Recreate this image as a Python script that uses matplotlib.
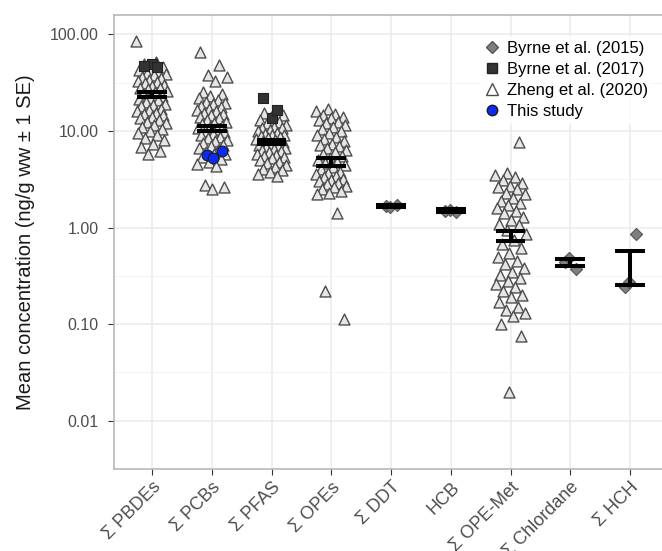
import numpy as np
import matplotlib
matplotlib.use("Agg")
import matplotlib.pyplot as plt
from matplotlib.lines import Line2D

plt.rcParams['font.family'] = ['Liberation Sans', 'DejaVu Sans']

categories = ['Σ PBDEs', 'Σ PCBs', 'Σ PFAS', 'Σ OPEs', 'Σ DDT', 'HCB',
              'Σ OPE-Met', 'Σ Chlordane', 'Σ HCH']

# Zheng et al. (2020) (ng/g ww)
zheng_pbdes = [85, 52, 49, 46, 44, 43, 42, 40, 39, 38, 36, 35, 34, 33, 32, 31,
               30, 29, 28, 27.5, 27, 26, 25, 24, 23, 22, 21.5, 21, 20, 19, 18.5,
               18, 17, 16.5, 16, 15.5, 15, 14.5, 14, 13.5, 13, 12.5, 12, 11.5,
               11, 10.5, 10, 9.5, 9, 8.5, 8, 7.3, 6.8, 6.2, 5.7]
zheng_pcbs = [65, 48, 38, 36, 33, 25, 24, 23, 22, 21, 20, 19.5, 19, 18, 17.5,
              17, 16.5, 16, 15.5, 15, 14.5, 14, 13.5, 13, 12.5, 12, 11.7, 11.3,
              11, 10.7, 10.4, 10, 9.7, 9.4, 9, 8.7, 8.4, 8.1, 7.8, 7.5, 7.2,
              6.9, 6.6, 6.3, 6, 5.8, 5.7, 5.4, 5.1, 4.8, 4.5, 4.3, 2.75, 2.6,
              2.5]
zheng_pfas = [15.5, 14.5, 14, 13, 12.5, 12, 11.5, 11, 10.8, 10.6, 10.2, 9.9,
              9.6, 9.3, 9.1, 9, 8.8, 8.6, 8.4, 8.2, 8, 7.8, 7.6, 7.4, 7.2, 7,
              6.8, 6.6, 6.5, 6.4, 6.2, 6, 5.8, 5.6, 5.5, 5.4, 5.2, 5, 4.8, 4.6,
              4.4, 4.2, 4, 3.9, 3.8, 3.6, 3.4]
zheng_opes = [17, 16, 15, 14.5, 14, 13.5, 13, 12.5, 12, 11.5, 11, 10.5, 10,
              9.5, 9, 8.6, 8.2, 7.8, 7.4, 7.2, 7, 6.7, 6.4, 6.1, 5.8, 5.5, 5.2,
              5, 4.8, 4.6, 4.4, 4.2, 4, 3.8, 3.7, 3.6, 3.4, 3.3, 3.2, 3.1, 3,
              2.9, 2.8, 2.7, 2.6, 2.5, 2.4, 2.3, 2.2, 1.4, 0.22, 0.113]
zheng_opemet = [7.6, 3.7, 3.5, 3.3, 3.1, 2.9, 2.7, 2.6, 2.5, 2.3, 2.2, 2.0,
                1.9, 1.8, 1.7, 1.6, 1.5, 1.4, 1.3, 1.2, 1.1, 1.05, 0.95, 0.85,
                0.75, 0.68, 0.62, 0.55, 0.5, 0.45, 0.42, 0.38, 0.35, 0.32, 0.3,
                0.28, 0.26, 0.24, 0.22, 0.2, 0.19, 0.17, 0.15, 0.14, 0.13,
                0.12, 0.1, 0.075, 0.02]
zheng = {0: zheng_pbdes, 1: zheng_pcbs, 2: zheng_pfas, 3: zheng_opes,
         6: zheng_opemet}

# Byrne et al. (2015)
byrne15 = {4: [1.66, 1.70, 1.63], 5: [1.50, 1.45, 1.52],
           7: [0.44, 0.37, 0.48], 8: [0.245, 0.85, 0.27]}
# Byrne et al. (2017)
byrne17 = {0: [49, 47, 46], 2: [13.7, 22, 16.4]}
# This study
this_study = {1: [5.6, 6.2, 5.3]}

# mean +/- 1 SE
se_low = [22.2, 9.9, 7.4, 4.3, 1.62, 1.46, 0.72, 0.40, 0.255]
se_high = [25.0, 11.2, 8.0, 5.2, 1.71, 1.55, 0.91, 0.475, 0.57]


def jitter(n, width=0.25, phase=0.0):
    k = np.arange(n)
    return width * (2 * ((k * 0.6180339887 + phase) % 1.0) - 1)


W, H = 662, 551
fig = plt.figure(figsize=(W / 100, H / 100), dpi=100)
ax = fig.add_axes([114 / W, (H - 469) / H, (672 - 114) / W, (469 - 15) / H])

xpos = np.arange(1, len(categories) + 1)

for i, vals in zheng.items():
    ax.scatter(xpos[i] + jitter(len(vals), 0.26, 0.13 * i), vals, marker='^',
               s=62, facecolor='#e6e6e6', edgecolor='#4d4d4d', linewidths=1.0,
               zorder=3)
for i, vals in byrne15.items():
    ax.scatter(xpos[i] + jitter(len(vals), 0.15, 0.2), vals, marker='D',
               s=38, facecolor='#7f7f7f', edgecolor='#555555', linewidths=0.8,
               zorder=4)
for i, vals in byrne17.items():
    ax.scatter(xpos[i] + jitter(len(vals), 0.18, 0.5), vals, marker='s',
               s=50, facecolor='#333333', edgecolor='#222222', linewidths=0.8,
               zorder=4)
for i, vals in this_study.items():
    ax.scatter(xpos[i] + jitter(len(vals), 0.2, 0.3), vals, marker='o',
               s=60, facecolor='#0b2cf0', edgecolor='#1a1a1a', linewidths=0.8,
               zorder=5)

ax.vlines(xpos, se_low, se_high, color='black', lw=2.9, zorder=6)
ax.hlines(se_low, xpos - 0.25, xpos + 0.25, color='black', lw=2.9, zorder=6)
ax.hlines(se_high, xpos - 0.25, xpos + 0.25, color='black', lw=2.9, zorder=6)

ax.set_yscale('log')
ax.set_ylim(10 ** -2.2, 10 ** 2.2)
ax.set_xlim(1 - 38 / 59.75, 9 + 42 / 59.75)

yt = [0.01, 0.1, 1, 10, 100]
ax.set_yticks(yt)
ax.set_yticklabels(['0.01', '0.10', '1.00', '10.00', '100.00'])
ax.set_yticks([10 ** (k + 0.5) for k in range(-3, 2)], minor=True)
ax.yaxis.set_minor_formatter(plt.NullFormatter())
ax.set_xticks(xpos)
ax.set_xticklabels(categories, rotation=45, ha='right', rotation_mode='anchor',
                   fontsize=13, color='#4d4d4d')

ax.tick_params(axis='y', which='major', labelsize=11.5, labelcolor='#4d4d4d',
               length=4, color='#333333', width=0.8, pad=7)
ax.tick_params(axis='y', which='minor', length=0)
ax.tick_params(axis='x', length=4, color='#333333', width=0.8, pad=3)

ax.grid(True, which='major', color='#ebebeb', lw=1.1, zorder=0)
ax.grid(True, which='minor', axis='y', color='#f2f2f2', lw=0.6, zorder=0)
ax.set_axisbelow(True)
for s in ax.spines.values():
    s.set_color('#b3b3b3')
    s.set_linewidth(1.1)
ax.spines['right'].set_visible(False)

ax.set_ylabel('Mean concentration (ng/g ww ± 1 SE)', fontsize=14.5,
              color='#1a1a1a', labelpad=11)

handles = [
    Line2D([], [], ls='none', marker='D', ms=6, mfc='#7f7f7f', mec='#555555'),
    Line2D([], [], ls='none', marker='s', ms=7, mfc='#333333', mec='#222222'),
    Line2D([], [], ls='none', marker='^', ms=8, mfc='white', mec='#4d4d4d'),
    Line2D([], [], ls='none', marker='o', ms=7.5, mfc='#0b2cf0', mec='#1a1a1a'),
]
labels = ['Byrne et al. (2015)', 'Byrne et al. (2017)', 'Zheng et al. (2020)',
          'This study']
leg = ax.legend(handles, labels, loc='upper left',
                bbox_to_anchor=(479 / W, 1 - 35.5 / H), bbox_transform=fig.transFigure,
                frameon=True, fontsize=12, handlelength=1.0, handletextpad=0.4,
                labelspacing=0.37, borderpad=0.3, borderaxespad=0)
leg.get_frame().set_facecolor('white')
leg.get_frame().set_edgecolor('none')
leg.set_zorder(10)

fig.savefig('out.png', dpi=100)
